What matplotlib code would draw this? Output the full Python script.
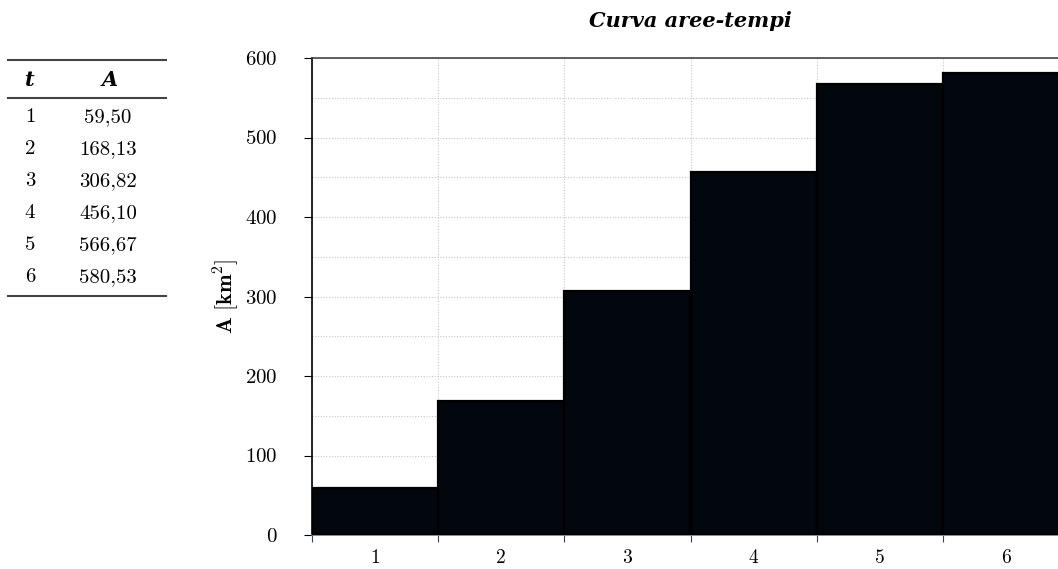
import matplotlib
matplotlib.use("Agg")
import matplotlib.pyplot as plt
from matplotlib.lines import Line2D
from matplotlib.ticker import FixedLocator, FixedFormatter, MultipleLocator, NullFormatter

t_steps = [1, 2, 3, 4, 5, 6]
areas = [59.50, 168.13, 306.82, 456.10, 566.67, 580.53]
area_labels = ["59,50", "168,13", "306,82", "456,10", "566,67", "580,53"]

plt.rcParams["font.family"] = "serif"
plt.rcParams["font.serif"] = ["cmr10"]
plt.rcParams["mathtext.fontset"] = "cm"
plt.rcParams["axes.formatter.use_mathtext"] = True

fig = plt.figure(figsize=(10.58, 5.69), dpi=100)
ax = fig.add_axes([312 / 1058, 1 - 535 / 569, 757 / 1058, 477 / 569])

# histogram-like bars: each step t covers the interval [t-1, t]
lefts = [t - 1 for t in t_steps]
ax.bar(lefts, areas, width=1.0, align="edge", color="#02060d",
       edgecolor="black", linewidth=1.6, zorder=3)

ax.set_xlim(0, 6)
ax.set_ylim(0, 600)
ax.xaxis.set_major_locator(FixedLocator(range(0, 7)))
ax.xaxis.set_major_formatter(NullFormatter())
ax.xaxis.set_minor_locator(FixedLocator([t - 0.5 for t in t_steps]))
ax.xaxis.set_minor_formatter(FixedFormatter([str(t) for t in t_steps]))
ax.tick_params(axis="x", which="minor", length=0, labelsize=14, pad=10)
ax.tick_params(axis="x", which="major", length=5, direction="out", color="#444444")
ax.yaxis.set_major_locator(MultipleLocator(100))
ax.yaxis.set_minor_locator(MultipleLocator(50))
ax.tick_params(axis="y", which="major", length=6, direction="out", labelsize=15, pad=19)
ax.tick_params(axis="y", which="minor", length=0)

ax.grid(True, which="both", axis="y", linestyle=(0, (1, 1.5)), color="#c8c8c8", linewidth=0.8, zorder=0)
ax.grid(True, which="major", axis="x", linestyle=(0, (1, 1.5)), color="#c8c8c8", linewidth=0.8, zorder=0)
ax.set_axisbelow(True)

ax.spines["left"].set_color("black")
ax.spines["left"].set_linewidth(1.2)
ax.spines["bottom"].set_color("#777777")
ax.spines["bottom"].set_linewidth(1.2)
ax.spines["top"].set_color("#444444")
ax.spines["top"].set_linewidth(1.2)
ax.spines["right"].set_visible(False)

ax.set_title("Curva aree-tempi", fontfamily="DejaVu Serif", fontweight="bold",
             fontstyle="italic", fontsize=15, pad=22)
ax.set_ylabel(r"$\mathbf{A\ [km^2]}$", fontsize=16, labelpad=3)

# data table on the left
x0, x1 = 8 / 1058, 166 / 1058
for yp in (60, 98, 296):
    fig.add_artist(Line2D([x0, x1], [1 - yp / 569] * 2, color="#444444", lw=1.5))

fig.text(30 / 1058, 1 - 80 / 569, "t", fontfamily="DejaVu Serif", fontweight="bold",
         fontstyle="italic", fontsize=15, ha="center", va="center")
fig.text(110 / 1058, 1 - 80 / 569, "A", fontfamily="DejaVu Serif", fontweight="bold",
         fontstyle="italic", fontsize=15, ha="center", va="center")
for i, (t, lab) in enumerate(zip(t_steps, area_labels)):
    yp = 117 + i * 32
    fig.text(30 / 1058, 1 - yp / 569, str(t), fontsize=15, ha="center", va="center")
    fig.text(108 / 1058, 1 - yp / 569, lab, fontsize=15, ha="center", va="center")

fig.savefig("out.png", dpi=100)
